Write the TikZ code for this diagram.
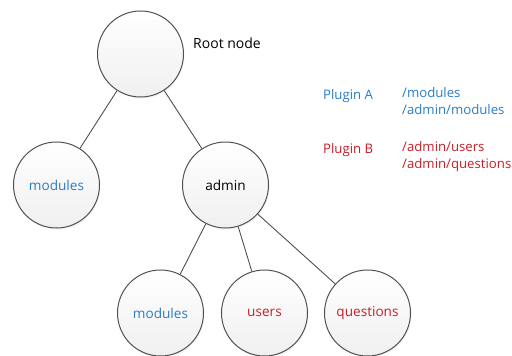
\documentclass[tikz,border=0pt]{standalone}
\usepackage{fontspec}
\setmainfont{Open Sans}
\usepackage{tikz}
\usetikzlibrary{shadows}

\definecolor{pluginA}{RGB}{40,125,200}
\definecolor{pluginB}{RGB}{200,30,40}
\definecolor{rim}{RGB}{80,80,80}

\tikzset{
	treenode/.style={shape=circle,draw=rim,line width=1pt,minimum size=86pt,
		inner sep=0pt,top color=white,bottom color=black!6,
		drop shadow={opacity=0.1,shadow xshift=1pt,shadow yshift=-1.5pt},
		font=\fontsize{13.6}{15}\selectfont},
	label/.style={anchor=west,inner sep=0pt,font=\fontsize{13.2}{17}\selectfont,align=left}
}

\begin{document}
\begin{tikzpicture}[x=1pt,y=-1pt]
	\useasboundingbox (0,0) rectangle (512,356);
	
	\node[treenode] (root) at (140.5, 54)   {};
	\node[treenode] (mod)  at (56.5, 185)   {\textcolor{pluginA}{modules}};
	\node[treenode] (adm)  at (225.5, 185)  {admin};
	\node[treenode] (amod) at (160.5, 313)  {\textcolor{pluginA}{modules}};
	\node[treenode] (usr)  at (264.5, 313)  {\textcolor{pluginB}{users}};
	\node[treenode] (qst)  at (367.5, 313)  {\textcolor{pluginB}{questions}};
	
	\path[-, draw=rim, line width=0.9pt] (root) edge (mod);
	\path[-, draw=rim, line width=0.9pt] (root) edge (adm);
	\path[-, draw=rim, line width=0.9pt] (adm) edge (amod);
	\path[-, draw=rim, line width=0.9pt] (adm) edge (usr);
	\path[-, draw=rim, line width=0.9pt] (adm) edge (qst);
	
	\node[label,font=\fontsize{14}{17}\selectfont] (rootlbl) at (193, 43) {Root node};
	\node[label,text=pluginA] (plugA) at (323, 96) {Plugin A};
	\node[label,text=pluginA,anchor=north west] (pathsA) at (402, 87) {/modules\\/admin/modules};
	\node[label,text=pluginB] (plugB) at (323, 150) {Plugin B};
	\node[label,text=pluginB,anchor=north west] (pathsB) at (402, 141) {/admin/users\\/admin/questions};
	
\end{tikzpicture}
\end{document}
